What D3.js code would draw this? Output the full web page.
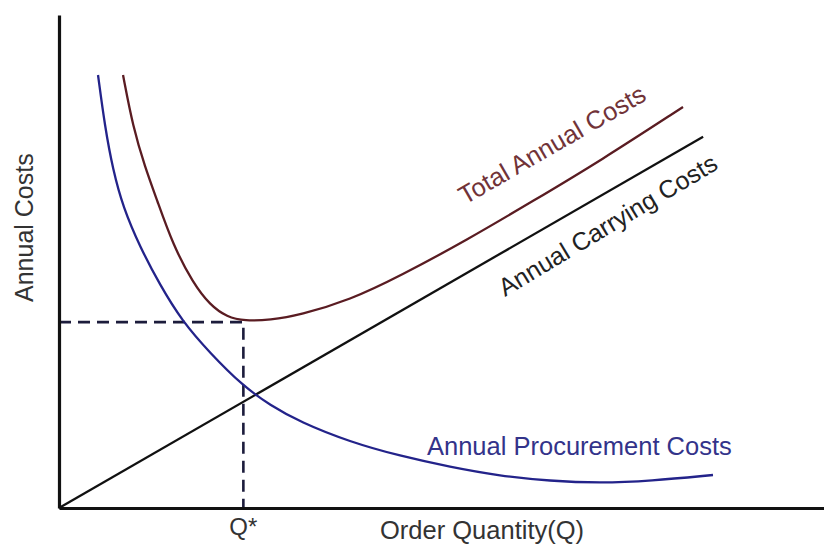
<!DOCTYPE html>
<html>
<head>
<meta charset="utf-8">
<script src="https://cdn.jsdelivr.net/npm/d3@7"></script>
<style>
  body { margin: 0; background: #fff; }
  text { font-family: "Liberation Sans", Arial, sans-serif; }
</style>
</head>
<body>
<div id="chart"></div>
<script>
// curve readings (order quantity units, cost units)
const procQ  = [5.10, 6.01, 7.06, 8.37, 10.59, 13.20, 16.08, 19.74, 24.05, 27.58, 31.50, 38.04, 44.58, 51.11, 57.65, 64.18, 70.72, 77.25, 85.49];
const procC  = [87.83, 77.28, 68.56, 61.03, 52.94, 45.23, 37.93, 31.44, 24.75, 20.89, 17.44, 13.39, 10.55, 8.32, 6.49, 5.48, 5.07, 5.48, 6.69];
const totalQ = [8.37, 9.67, 11.24, 12.81, 14.90, 17.52, 19.74, 21.96, 24.31, 27.58, 31.50, 38.04, 44.58, 53.33, 61.96, 70.72, 81.57];
const totalC = [87.83, 77.28, 69.17, 62.47, 53.35, 45.64, 41.18, 38.74, 37.93, 38.13, 39.15, 42.19, 47.06, 54.36, 62.27, 70.39, 81.34];
const carryQ = [0, 84.2];
const carryC = [0, 75.3];
const qStar = 24.1, minCost = 37.7;

const svgWidth = 824, svgHeight = 544;
const svg = d3.select("#chart").append("svg")
    .attr("width", svgWidth)
    .attr("height", svgHeight);

const x = d3.scaleLinear().domain([0, 100]).range([59, 824]);
const y = d3.scaleLinear().domain([0, 100]).range([508, 15]);

const zip = (qs, cs) => qs.map((q, i) => [q, cs[i]]);
const line = d3.line().x(d => x(d[0])).y(d => y(d[1]));
const smooth = d3.line().x(d => x(d[0])).y(d => y(d[1])).curve(d3.curveBasis);

// dashed guides to the optimum
svg.append("path")
    .attr("d", line([[0, minCost], [qStar, minCost], [qStar, 0]]))
    .attr("fill", "none")
    .attr("stroke", "#1c1c3c")
    .attr("stroke-width", 2.6)
    .attr("stroke-dasharray", "12,7");

svg.append("path")
    .attr("d", line(zip(carryQ, carryC)))
    .attr("fill", "none").attr("stroke", "#111").attr("stroke-width", 2.3);

svg.append("path")
    .attr("d", smooth(zip(procQ, procC)))
    .attr("fill", "none").attr("stroke", "#23238a").attr("stroke-width", 2.3);

svg.append("path")
    .attr("d", smooth(zip(totalQ, totalC)))
    .attr("fill", "none").attr("stroke", "#5a1c22").attr("stroke-width", 2.3);

// axes, no ticks
svg.append("g").attr("transform", "translate(0," + y(0) + ")")
    .call(d3.axisBottom(x).ticks(0).tickSizeOuter(0));
svg.append("g").attr("transform", "translate(" + x(0) + ",0)")
    .call(d3.axisLeft(y).ticks(0).tickSizeOuter(0));
svg.selectAll(".domain").attr("stroke", "#111").attr("stroke-width", 3.2);

// labels
svg.append("text")
    .attr("transform", "translate(33,302) rotate(-90)")
    .attr("font-size", 25).attr("fill", "#333")
    .text("Annual Costs");

svg.append("text")
    .attr("x", 380).attr("y", 539)
    .attr("font-size", 25.5).attr("fill", "#333")
    .text("Order Quantity(Q)");

svg.append("text")
    .attr("x", x(qStar)).attr("y", 535)
    .attr("text-anchor", "middle")
    .attr("font-size", 24).attr("fill", "#333")
    .text("Q*");

svg.append("text")
    .attr("x", 427).attr("y", 455)
    .attr("font-size", 25.5).attr("fill", "#33338a")
    .text("Annual Procurement Costs");

svg.append("text")
    .attr("transform", "translate(465,205) rotate(-30)")
    .attr("font-size", 25.5).attr("fill", "#713338")
    .text("Total Annual Costs");

svg.append("text")
    .attr("transform", "translate(505,297) rotate(-31)")
    .attr("font-size", 25).attr("fill", "#222")
    .text("Annual Carrying Costs");
</script>
</body>
</html>
